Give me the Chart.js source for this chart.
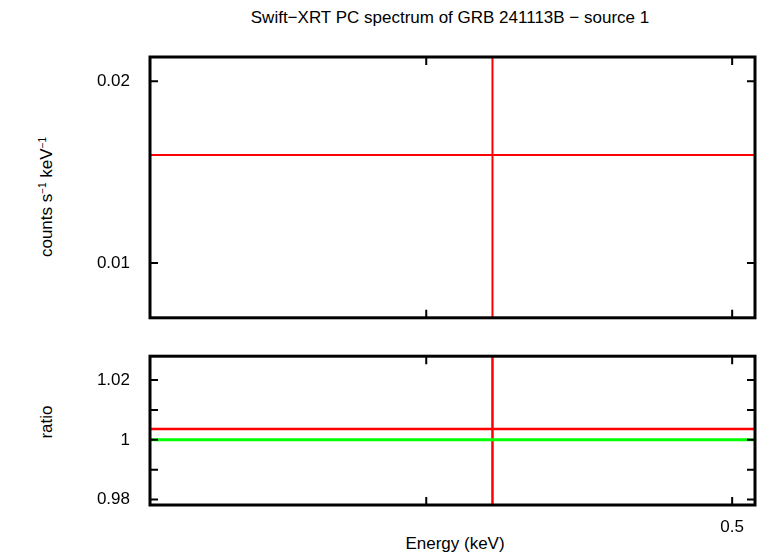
<!DOCTYPE html>
<html><head><meta charset="utf-8">
<script src="https://cdn.jsdelivr.net/npm/chart.js@4/dist/chart.umd.min.js"></script>
<style>
body{margin:0;background:#fff;width:759px;height:556px;position:relative;overflow:hidden;font-family:"Liberation Sans",Arial,sans-serif}
canvas{position:absolute;left:0}
.t{position:absolute;font-size:17px;color:#000;white-space:nowrap}
</style></head><body>
<div class="t" style="left:450px;top:8px;transform:translateX(-50%)">Swift−XRT PC spectrum of GRB 241113B − source 1</div>
<div class="t" style="left:455px;top:534px;transform:translateX(-50%)">Energy (keV)</div>
<div class="t" style="left:47px;top:197px;transform:translate(-50%,-50%) rotate(-90deg)">counts s<sup style="font-size:10px">−1</sup> keV<sup style="font-size:10px">−1</sup></div>
<div class="t" style="left:47px;top:422px;transform:translate(-50%,-50%) rotate(-90deg)">ratio</div>
<canvas id="c1" width="759" height="340" style="top:0;width:759px;height:340px"></canvas>
<canvas id="c2" width="759" height="200" style="top:334px;width:759px;height:200px"></canvas>
<script>
// data
const energy=[0.4198];
const binLow=[0.30], binHigh=[0.60];
const rate=[0.0151], rateLow=[0.001], rateHigh=[0.05];
const ratio=[1.0036], ratioLow=[0.9], ratioHigh=[1.1];
const modelRatio=[1.0];
const xRange=[0.327,0.5084];
const xTicks=[0.4,0.5], xLabels=['','0.5'];
const topRange=[0.00811,0.02194], topTicks=[0.01,0.02], topLabels=['0.01','0.02'];
const botRange=[0.9782,1.028], botTicks=[0.98,0.99,1.0,1.01,1.02], botLabels=['0.98','','1','','1.02'];

const font={family:'"Liberation Sans",Arial,sans-serif',size:17};
function frame(ticksX,ticksY){
 return {id:'frame',afterDatasetsDraw(ch){
  const c=ch.ctx,a=ch.chartArea;c.save();c.strokeStyle='#000';c.lineWidth=2;
  const xs=ch.scales.x,ys=ch.scales.y;c.beginPath();
  ticksX.forEach(v=>{const p=xs.getPixelForValue(v);c.moveTo(p,a.bottom);c.lineTo(p,a.bottom-8);c.moveTo(p,a.top);c.lineTo(p,a.top+8);});
  ticksY.forEach(v=>{const p=ys.getPixelForValue(v);c.moveTo(a.left,p);c.lineTo(a.left+8,p);c.moveTo(a.right,p);c.lineTo(a.right-8,p);});
  c.stroke();c.lineWidth=3;c.strokeRect(a.left,a.top,a.right-a.left,a.bottom-a.top);c.restore();}};
}
function seg(x0,y0,x1,y1){return [{x:x0,y:y0},{x:x1,y:y1}];}
function ds(d,col,w){return {data:d,borderColor:col,borderWidth:w,pointRadius:0,showLine:true,fill:false};}

new Chart(document.getElementById('c1'),{type:'scatter',
 data:{datasets:[
  ds(seg(binLow[0],rate[0],binHigh[0],rate[0]),'#ff0000',2),
  ds(seg(energy[0],rateLow[0],energy[0],rateHigh[0]),'#ff0000',2)]},
 options:{responsive:false,animation:false,devicePixelRatio:1,
  layout:{padding:{top:57,right:4,bottom:3,left:0}},
  plugins:{legend:{display:false},tooltip:{enabled:false}},
  scales:{
   x:{type:'logarithmic',display:false,min:xRange[0],max:xRange[1]},
   y:{type:'logarithmic',min:topRange[0],max:topRange[1],
      afterBuildTicks:s=>{s.ticks=topTicks.map(v=>({value:v}));},
      afterFit:s=>{s.width=150;},
      grid:{display:false},border:{display:false},
      ticks:{padding:12,color:'#000',font,callback:(v)=>{const i=topTicks.indexOf(v);return i>=0?topLabels[i]:'';}}}}},
 plugins:[frame(xTicks,topTicks)]});

new Chart(document.getElementById('c2'),{type:'scatter',
 data:{datasets:[
  ds(seg(xRange[0],modelRatio[0],xRange[1],modelRatio[0]),'#00ff00',3),
  ds(seg(binLow[0],ratio[0],binHigh[0],ratio[0]),'#ff0000',2.5),
  ds(seg(energy[0],ratioLow[0],energy[0],ratioHigh[0]),'#ff0000',2.5)]},
 options:{responsive:false,animation:false,devicePixelRatio:1,
  layout:{padding:{top:3,right:4,bottom:0,left:0}},
  plugins:{legend:{display:false},tooltip:{enabled:false}},
  scales:{
   x:{type:'logarithmic',min:xRange[0],max:xRange[1],
      afterBuildTicks:s=>{s.ticks=xTicks.map(v=>({value:v}));},
      afterFit:s=>{s.height=29;},
      grid:{display:false},border:{display:false},
      ticks:{padding:4,color:'#000',font,maxRotation:0,autoSkip:false,callback:(v)=>{const i=xTicks.indexOf(v);return i>=0?xLabels[i]:'';}}},
   y:{min:botRange[0],max:botRange[1],
      afterBuildTicks:s=>{s.ticks=botTicks.map(v=>({value:v}));},
      afterFit:s=>{s.width=150;},
      grid:{display:false},border:{display:false},
      ticks:{padding:12,color:'#000',font,autoSkip:false,callback:(v,i)=>botLabels[i]}}}},
 plugins:[frame(xTicks,botTicks)]});
</script></body></html>
